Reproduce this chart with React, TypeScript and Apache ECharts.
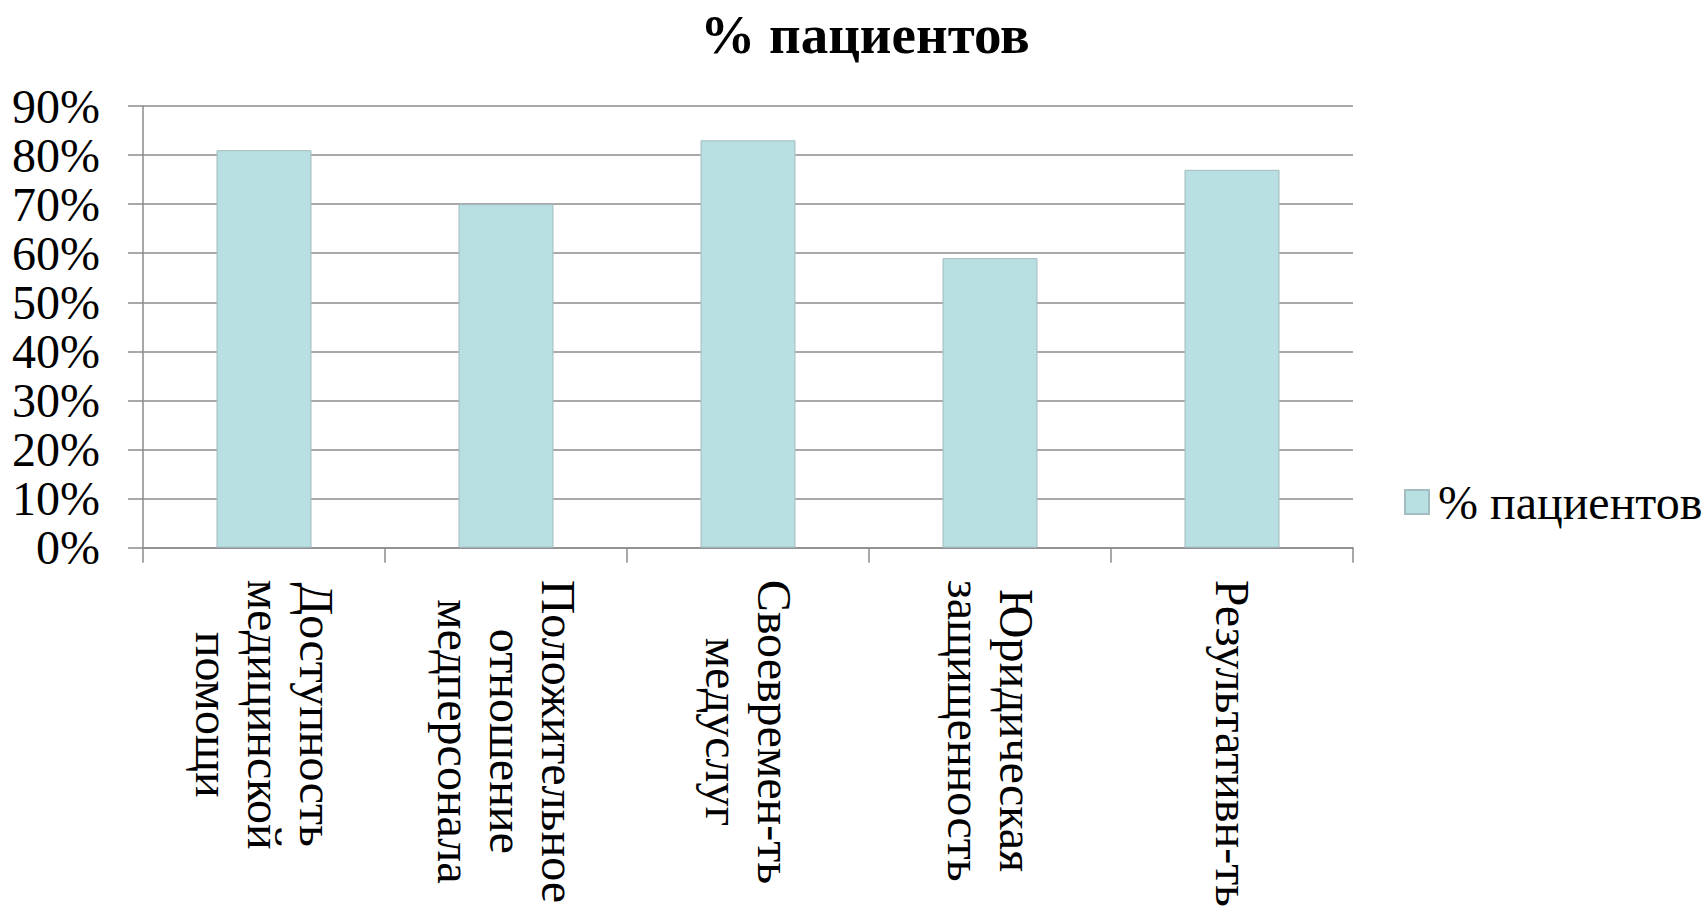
import React, { useEffect, useRef } from "react";
import * as echarts from "echarts";

const categories = [
  "Доступность\nмедицинской\nпомощи",
  "Положительное\nотношение\nмедперсонала",
  "Своевремен-ть\nмедуслуг",
  "Юридическая\nзащищенность",
  "Результативн-ть",
];
const seriesName = "% пациентов";
const values = [81, 70, 83, 59, 77];
const yTicks = { min: 0, max: 90, interval: 10 };

const FONT = "Liberation Serif";
const GRID_COLOR = "#8c8c8c";

export default function App() {
  const ref = useRef<HTMLDivElement>(null);
  useEffect(() => {
    document.body.style.margin = "0";
    if (!ref.current) return;
    const chart = echarts.init(ref.current, null, { renderer: "svg" });
    chart.setOption({
      animation: false,
      backgroundColor: "#ffffff",
      textStyle: { fontFamily: FONT },
      title: {
        text: seriesName,
        left: 860,
        top: 2,
        textAlign: "center",
        textStyle: { fontFamily: FONT, fontWeight: "bold", fontSize: 55, color: "#000" },
      },
      legend: {
        show: true,
        left: 1399,
        top: 473,
        orient: "vertical",
        icon: "rect",
        itemWidth: 24,
        itemHeight: 24,
        itemGap: 10,
        textStyle: { fontFamily: FONT, fontSize: 48, color: "#000", padding: [0, 0, 0, 4] },
        data: [seriesName],
      },
      grid: { left: 143, right: 351, top: 106, bottom: 357, containLabel: false },
      xAxis: {
        type: "category",
        data: categories,
        boundaryGap: true,
        axisLine: { show: true, lineStyle: { color: GRID_COLOR, width: 1.5 } },
        axisTick: { show: true, length: 15, interval: 0, alignWithLabel: false, lineStyle: { color: GRID_COLOR, width: 1.5 } },
        axisLabel: {
          interval: 0,
          rotate: -90,
          margin: 32,
          color: "#000",
          fontFamily: FONT,
          fontSize: 48,
          lineHeight: 52,
          formatter: (v: string) => v.split("\n").map((l) => `{c|${l}}`).join("\n"),
          rich: {
            c: { align: "center", fontFamily: FONT, fontSize: 48, lineHeight: 52, color: "#000" },
          },
        },
      },
      yAxis: {
        type: "value",
        min: yTicks.min,
        max: yTicks.max,
        interval: yTicks.interval,
        axisLine: { show: true, lineStyle: { color: GRID_COLOR, width: 1.5 } },
        axisTick: { show: true, length: 15, lineStyle: { color: GRID_COLOR, width: 1.5 } },
        splitLine: { show: true, lineStyle: { color: GRID_COLOR, width: 1.5 } },
        axisLabel: {
          margin: 43,
          color: "#000",
          fontFamily: FONT,
          fontSize: 48,
          formatter: "{value}%",
        },
      },
      series: [
        {
          name: seriesName,
          type: "bar",
          data: values,
          barWidth: 95,
          itemStyle: { color: "#b8dfe2", borderColor: "#a3bcbf", borderWidth: 1 },
        },
      ],
    });
    return () => chart.dispose();
  }, []);
  return <div ref={ref} style={{ width: 1704, height: 910 }} />;
}
